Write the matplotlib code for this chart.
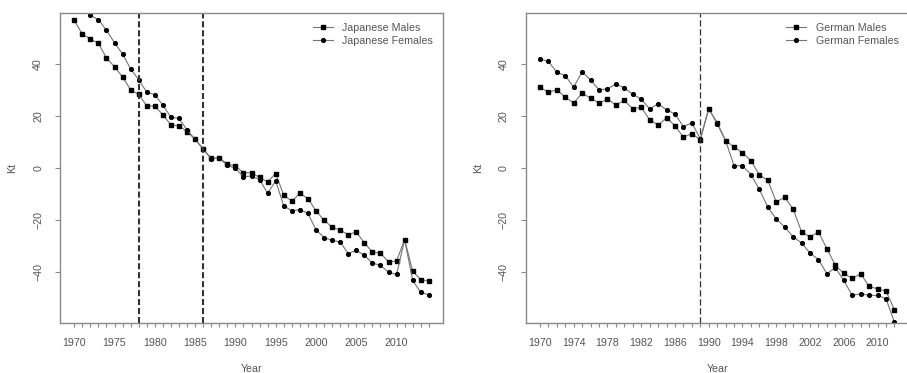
#!/usr/bin/env python3
"""Mortality index kt for Japan and Germany, males vs females, with break years."""

import matplotlib

matplotlib.use("Agg")
import matplotlib.pyplot as plt

# Japan, 1970-2014
JP_YEARS = list(range(1970, 2015))
JP_MALES = [
    56.6, 51.3, 49.5, 47.8, 42.2, 38.8, 34.9, 30.0, 28.2, 23.8,
    23.7, 20.4, 16.5, 16.2, 14.0, 11.0, 7.3, 3.7, 3.9, 1.5,
    0.8, -1.8, -1.8, -3.6, -5.3, -2.1, -10.4, -12.7, -9.7, -11.7,
    -16.4, -20.0, -22.7, -23.8, -25.5, -24.5, -28.7, -32.2, -32.6, -36.0,
    -35.6, -27.4, -39.5, -42.8, -43.3,
]
JP_FEMALES = [
    65.5, 62.2, 58.5, 56.9, 52.8, 48.0, 43.7, 38.0, 33.8, 29.1,
    28.1, 24.1, 19.5, 19.0, 14.6, 11.0, 7.3, 3.5, 3.8, 1.0,
    -0.1, -3.3, -3.1, -4.4, -9.7, -4.9, -14.5, -16.4, -15.9, -17.4,
    -23.6, -26.7, -27.7, -28.3, -32.8, -31.5, -33.5, -36.4, -37.3, -39.9,
    -40.8, -27.4, -43.1, -47.6, -48.6,
]
JP_BREAKS = [1978, 1986]
JP_LABEL_YEARS = list(range(1970, 2011, 5))
JP_NAMES = ["Japanese Males", "Japanese Females"]

# Germany, 1970-2012
DE_YEARS = list(range(1970, 2013))
DE_MALES = [
    31.0, 29.0, 30.0, 27.2, 24.9, 28.7, 26.8, 24.9, 26.4, 24.2,
    25.9, 22.7, 23.3, 18.5, 16.4, 19.3, 16.2, 11.8, 13.2, 10.8,
    22.6, 17.4, 10.5, 8.1, 5.9, 2.8, -2.6, -4.7, -13.0, -11.2,
    -15.7, -24.5, -26.4, -24.5, -30.9, -37.3, -40.4, -42.3, -40.5, -45.4,
    -46.3, -47.2, -54.3,
]
DE_FEMALES = [
    41.8, 40.9, 36.7, 35.4, 31.0, 36.9, 33.8, 30.0, 30.3, 32.2,
    30.7, 28.3, 26.4, 22.7, 24.6, 22.3, 20.7, 15.9, 17.3, 11.2,
    22.8, 17.0, 10.5, 0.9, 0.9, -2.5, -8.2, -15.0, -19.5, -22.6,
    -26.4, -28.7, -32.6, -35.1, -40.5, -38.2, -43.1, -48.8, -48.2, -48.8,
    -48.8, -50.1, -59.1,
]
DE_BREAKS = [1989]
DE_LABEL_YEARS = list(range(1970, 2011, 4))
DE_NAMES = ["German Males", "German Females"]

Y_TICKS = [-40, -20, 0, 20, 40]
Y_LIMIT = 59.4

TEXT_COLOR = "#555555"
FRAME_COLOR = "#8a8a8a"
LINE_COLOR = "#747474"
BREAK_COLOR = "#333333"
FONT_SIZE = 7.7

plt.rcParams["font.family"] = ["Liberation Sans", "DejaVu Sans"]


def draw_panel(ax, years, males, females, breaks, label_years, names, break_style):
    ax.plot(years, males, color=LINE_COLOR, lw=0.8, marker="s", ms=3.3,
            mfc="black", mec="black", label=names[0])
    ax.plot(years, females, color=LINE_COLOR, lw=0.8, marker="o", ms=2.7,
            mfc="black", mec="black", label=names[1])
    for year in breaks:
        ax.axvline(year, color=BREAK_COLOR, **break_style)

    pad = 0.04 * (years[-1] - years[0])
    ax.set_xlim(years[0] - pad, years[-1] + pad)
    ax.set_ylim(-Y_LIMIT, Y_LIMIT)
    ax.set_xticks(label_years)
    ax.set_xticks(years, minor=True)
    ax.set_yticks(Y_TICKS)

    ax.tick_params(which="both", direction="out", color=FRAME_COLOR,
                   labelcolor=TEXT_COLOR, labelsize=FONT_SIZE, width=0.8)
    ax.tick_params(axis="x", which="both", length=3.0, pad=8.0)
    ax.tick_params(axis="y", length=3.6, pad=8.5, labelrotation=90)
    for label in ax.get_yticklabels():
        label.set_verticalalignment("center")

    for spine in ax.spines.values():
        spine.set_color(FRAME_COLOR)
        spine.set_linewidth(1.0)

    ax.set_xlabel("Year", fontsize=FONT_SIZE, color=TEXT_COLOR)
    ax.set_ylabel("Kt", fontsize=FONT_SIZE, color=TEXT_COLOR)
    ax.xaxis.set_label_coords(0.5, -0.132)
    ax.yaxis.set_label_coords(-0.112, 0.5)

    ax.legend(loc="upper right", frameon=False, fontsize=FONT_SIZE,
              labelcolor=TEXT_COLOR, handlelength=1.9, handletextpad=0.9,
              labelspacing=0.3, borderaxespad=0.7, borderpad=0.2)


def main():
    fig = plt.figure(figsize=(9.07, 3.73), dpi=100)
    ax_jp = fig.add_axes([0.0662, 0.134, 0.4222, 0.831])
    ax_de = fig.add_axes([0.5796, 0.134, 0.4222, 0.831])

    draw_panel(ax_jp, JP_YEARS, JP_MALES, JP_FEMALES, JP_BREAKS,
               JP_LABEL_YEARS, JP_NAMES,
               {"lw": 1.5, "linestyle": (0, (2.9, 1.4))})
    draw_panel(ax_de, DE_YEARS, DE_MALES, DE_FEMALES, DE_BREAKS,
               DE_LABEL_YEARS, DE_NAMES,
               {"lw": 0.9, "linestyle": (0, (5.0, 2.2))})

    fig.savefig("out.png", dpi=100)
    plt.close(fig)


if __name__ == "__main__":
    main()
